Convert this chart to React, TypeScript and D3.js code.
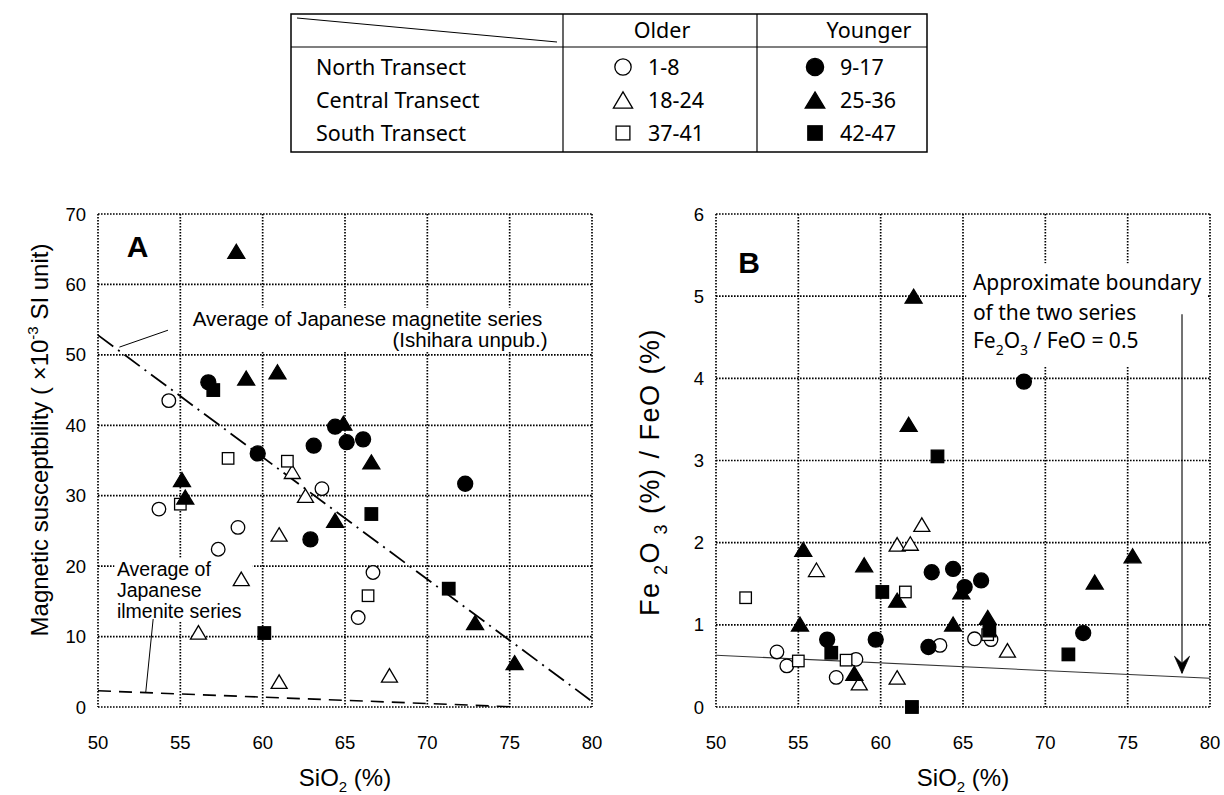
import React from 'react';
import * as d3 from 'd3';

type Pt = [number, number];

// ---------- axes ----------
const xTicks = [50, 55, 60, 65, 70, 75, 80];
const yTicksA = [0, 10, 20, 30, 40, 50, 60, 70];
const yTicksB = [0, 1, 2, 3, 4, 5, 6];

// ---------- Panel A: magnetic susceptibility vs SiO2 ----------
const aNorthOlder: Pt[] = [[54.3, 43.5], [53.7, 28.1], [58.5, 25.5], [57.3, 22.4], [63.6, 31.0], [66.7, 19.1], [65.8, 12.7]];
const aNorthYounger: Pt[] = [[56.7, 46.1], [64.4, 39.8], [63.1, 37.1], [59.7, 36.0], [65.1, 37.6], [66.1, 38.0], [72.3, 31.7], [62.9, 23.8]];
const aCentralOlder: Pt[] = [[61.8, 33.4], [62.6, 30.0], [61.0, 24.5], [58.7, 18.2], [56.1, 10.6], [61.0, 3.6], [67.7, 4.5]];
const aCentralYounger: Pt[] = [[58.4, 64.7], [59.0, 46.7], [60.9, 47.6], [64.9, 40.3], [55.1, 32.3], [55.3, 29.8], [64.4, 26.5], [66.6, 34.8], [72.9, 12.0], [75.3, 6.3]];
const aSouthOlder: Pt[] = [[57.9, 35.3], [61.5, 34.9], [55.0, 28.8], [66.4, 15.8]];
const aSouthYounger: Pt[] = [[57.0, 45.0], [60.1, 10.5], [66.6, 27.4], [71.3, 16.8]];

const magnetiteLine: Pt[] = [[50, 52.8], [80, 0.8]];
const ilmeniteLine: Pt[] = [[50, 2.3], [75.5, 0.0]];
const magnetiteLeader: Pt[] = [[51.3, 51.1], [54.25, 53.5]];
const ilmeniteLeader: Pt[] = [[53.35, 12.5], [52.9, 2.1]];

// ---------- Panel B: Fe2O3/FeO vs SiO2 ----------
const bNorthOlder: Pt[] = [[53.7, 0.67], [54.3, 0.5], [58.5, 0.58], [57.3, 0.36], [65.7, 0.83], [66.7, 0.82], [63.6, 0.75]];
const bNorthYounger: Pt[] = [[56.75, 0.82], [59.7, 0.82], [68.7, 3.96], [63.1, 1.64], [64.4, 1.68], [65.1, 1.46], [66.1, 1.54], [62.9, 0.73], [72.3, 0.9]];
const bCentralOlder: Pt[] = [[56.1, 1.67], [61.0, 1.98], [61.8, 1.99], [62.5, 2.22], [58.7, 0.29], [61.0, 0.36], [67.7, 0.69]];
const bCentralYounger: Pt[] = [[62.0, 5.0], [61.7, 3.44], [55.3, 1.92], [59.0, 1.73], [61.0, 1.3], [55.1, 1.01], [58.4, 0.41], [64.9, 1.4], [64.4, 1.01], [66.5, 1.09], [73.0, 1.52], [75.3, 1.84]];
const bSouthOlder: Pt[] = [[51.8, 1.33], [61.5, 1.4], [55.0, 0.56], [57.9, 0.57], [66.5, 0.88]];
const bSouthYounger: Pt[] = [[63.45, 3.05], [60.1, 1.4], [57.0, 0.66], [61.9, 0.0], [66.6, 0.93], [71.4, 0.64]];

const boundaryLine: Pt[] = [[50, 0.63], [80, 0.35]];
const arrowLine: Pt[] = [[78.3, 4.78], [78.3, 0.41]];

// ---------- legend ----------
const legendRows = ['North Transect', 'Central Transect', 'South Transect'];
const olderRanges = ['1-8', '18-24', '37-41'];
const youngerRanges = ['9-17', '25-36', '42-47'];
const legendShapes = ['circle', 'triangle', 'square'];

const FONT = '"Liberation Sans", Arial, Helvetica, sans-serif';
const FONT2 = '"Noto Sans", "DejaVu Sans", sans-serif';
const DOT = '1.6 1.4';

const xA = d3.scaleLinear().domain([50, 80]).range([98, 592]);
const yA = d3.scaleLinear().domain([0, 70]).range([707, 214]);
const xB = d3.scaleLinear().domain([50, 80]).range([716, 1210]);
const yB = d3.scaleLinear().domain([0, 6]).range([707, 214]);

function Marker({ shape, filled, x, y, k = 1 }: { shape: string; filled: boolean; x: number; y: number; k?: number }) {
  const fill = filled ? '#000' : '#fff';
  const sw = 1.3;
  if (shape === 'circle') {
    const r = (filled ? 7.5 : 6.8) * k;
    return <circle cx={x} cy={y} r={r} fill={fill} stroke="#000" strokeWidth={sw} />;
  }
  if (shape === 'triangle') {
    const w = (filled ? 17 : 16) * k;
    const h = (filled ? 14 : 13.5) * k;
    return <path d={`M${x},${y - h / 2}L${x + w / 2},${y + h / 2}L${x - w / 2},${y + h / 2}Z`} fill={fill} stroke="#000" strokeWidth={sw} strokeLinejoin="miter" />;
  }
  const s = (filled ? 12.5 : 11.5) * k;
  return <rect x={x - s / 2} y={y - s / 2} width={s} height={s} fill={fill} stroke="#000" strokeWidth={sw} />;
}

function Grid({ x, y, yTicks }: { x: d3.ScaleLinear<number, number>; y: d3.ScaleLinear<number, number>; yTicks: number[] }) {
  const [x0, x1] = x.range();
  const [y0, y1] = y.range();
  return (
    <g stroke="#000" strokeWidth={1.7} strokeDasharray={DOT} fill="none">
      {xTicks.map((t) => (
        <line key={'v' + t} x1={x(t)} x2={x(t)} y1={y1} y2={y0} />
      ))}
      {yTicks.map((t) => (
        <line key={'h' + t} x1={x0} x2={x1} y1={y(t)} y2={y(t)} />
      ))}
    </g>
  );
}

function TickLabels({ x, y, yTicks }: { x: d3.ScaleLinear<number, number>; y: d3.ScaleLinear<number, number>; yTicks: number[] }) {
  const x0 = x.range()[0];
  const y0 = y.range()[0];
  return (
    <g fontFamily={FONT} fontSize={18.5} fill="#000">
      {xTicks.map((t) => (
        <text key={'xt' + t} x={x(t)} y={y0 + 42} textAnchor="middle">{t}</text>
      ))}
      {yTicks.map((t) => (
        <text key={'yt' + t} x={x0 - 12} y={y(t) + 6.5} textAnchor="end">{t}</text>
      ))}
    </g>
  );
}

function Series({ data, shape, filled, x, y }: { data: Pt[]; shape: string; filled: boolean; x: d3.ScaleLinear<number, number>; y: d3.ScaleLinear<number, number> }) {
  return (
    <g>
      {data.map((d, i) => (
        <Marker key={i} shape={shape} filled={filled} x={x(d[0])} y={y(d[1])} />
      ))}
    </g>
  );
}

export default function App() {
  const lineA = d3.line<Pt>().x((d) => xA(d[0])).y((d) => yA(d[1]));
  const lineB = d3.line<Pt>().x((d) => xB(d[0])).y((d) => yB(d[1]));

  const tipX = xB(arrowLine[1][0]);
  const tipY = yB(arrowLine[1][1]);

  const rowY = [67, 100, 133];

  return (
    <svg width={1224} height={795} style={{ position: 'absolute', left: 0, top: 0, background: '#fff' }}>
      <rect x={0} y={0} width={1224} height={795} fill="#fff" />

      {/* ---------------- Legend table ---------------- */}
      <g>
        <rect x={291} y={14} width={636} height={138} fill="none" stroke="#000" strokeWidth={1.5} />
        <line x1={291} x2={927} y1={47} y2={47} stroke="#000" strokeWidth={1.2} />
        <line x1={563} x2={563} y1={14} y2={152} stroke="#000" strokeWidth={1.2} />
        <line x1={757} x2={757} y1={14} y2={152} stroke="#000" strokeWidth={1.2} />
        <line x1={297} x2={557} y1={18} y2={42} stroke="#000" strokeWidth={1} />
        <g fontFamily={FONT2} fontSize={21.5} fill="#000">
          <text x={662} y={38} textAnchor="middle">Older</text>
          <text x={869} y={38} textAnchor="middle">Younger</text>
          {legendRows.map((r, i) => (
            <text key={r} x={316} y={rowY[i] + 7.5}>{r}</text>
          ))}
          {olderRanges.map((r, i) => (
            <text key={r} x={648} y={rowY[i] + 7.5}>{r}</text>
          ))}
          {youngerRanges.map((r, i) => (
            <text key={r} x={840} y={rowY[i] + 7.5}>{r}</text>
          ))}
        </g>
        {legendShapes.map((s, i) => (
          <Marker key={'lo' + s} shape={s} filled={false} x={623} y={rowY[i]} k={1.2} />
        ))}
        {legendShapes.map((s, i) => (
          <Marker key={'ly' + s} shape={s} filled={true} x={815} y={rowY[i]} k={1.15} />
        ))}
      </g>

      {/* ---------------- Panel A ---------------- */}
      <Grid x={xA} y={yA} yTicks={yTicksA} />
      {/* white boxes behind annotations */}
      <rect x={xA(55.6)} y={yA(56.7)} width={xA(77.4) - xA(55.6)} height={yA(50.4) - yA(56.7)} fill="#fff" />
      <rect x={xA(51.0)} y={yA(21.2)} width={xA(59.4) - xA(51.0)} height={yA(12.1) - yA(21.2)} fill="#fff" />

      <path d={lineA(magnetiteLine) || ''} fill="none" stroke="#000" strokeWidth={1.8} strokeDasharray="19 6 2 6" />
      <path d={lineA(ilmeniteLine) || ''} fill="none" stroke="#000" strokeWidth={1.6} strokeDasharray="13 8" />
      <path d={lineA(magnetiteLeader) || ''} fill="none" stroke="#000" strokeWidth={1} />
      <path d={lineA(ilmeniteLeader) || ''} fill="none" stroke="#000" strokeWidth={1} />

      <g fontFamily={FONT} fontSize={20.5} fill="#000">
        <text x={xA(55.75)} y={yA(54.1)}>Average of Japanese magnetite series</text>
        <text x={xA(77.3)} y={yA(51.1)} textAnchor="end">(Ishihara unpub.)</text>
      </g>
      <g fontFamily={FONT} fontSize={19.5} fill="#000">
        <text x={xA(51.15)} y={yA(18.6)}>Average of</text>
        <text x={xA(51.15)} y={yA(15.6)}>Japanese</text>
        <text x={xA(51.15)} y={yA(12.6)}>ilmenite series</text>
      </g>
      <text x={xA(51.75)} y={yA(63.9)} fontFamily={FONT} fontSize={30} fontWeight="bold" fill="#000">A</text>

      <Series data={aNorthOlder} shape="circle" filled={false} x={xA} y={yA} />
      <Series data={aCentralOlder} shape="triangle" filled={false} x={xA} y={yA} />
      <Series data={aSouthOlder} shape="square" filled={false} x={xA} y={yA} />
      <Series data={aNorthYounger} shape="circle" filled={true} x={xA} y={yA} />
      <Series data={aCentralYounger} shape="triangle" filled={true} x={xA} y={yA} />
      <Series data={aSouthYounger} shape="square" filled={true} x={xA} y={yA} />

      <TickLabels x={xA} y={yA} yTicks={yTicksA} />
      <text x={345} y={786} textAnchor="middle" fontFamily={FONT} fontSize={24} fill="#000">
        SiO<tspan fontSize={15} dy={6}>2</tspan><tspan dy={-6}> (%)</tspan>
      </text>
      <text transform="translate(48,440) rotate(-90)" textAnchor="middle" fontFamily={FONT} fontSize={24} fill="#000">
        Magnetic susceptbility ( ×10<tspan fontSize={15} dy={-10}>-3</tspan><tspan dy={10}> SI unit)</tspan>
      </text>

      {/* ---------------- Panel B ---------------- */}
      <Grid x={xB} y={yB} yTicks={yTicksB} />
      <rect x={xB(65.2)} y={yB(5.4)} width={xB(79.85) - xB(65.2)} height={yB(4.14) - yB(5.4)} fill="#fff" />

      <path d={lineB(boundaryLine) || ''} fill="none" stroke="#333" strokeWidth={1.1} />
      <path d={lineB(arrowLine) || ''} fill="none" stroke="#000" strokeWidth={1.1} />
      <path
        d={`M${tipX},${tipY}L${tipX - 7.5},${tipY - 17}L${tipX},${tipY - 10}L${tipX + 7.5},${tipY - 17}Z`}
        fill="#000"
        stroke="#000"
        strokeWidth={0.8}
      />

      <g fontFamily={FONT2} fontSize={21} fill="#000">
        <text x={xB(65.6)} y={yB(5.07)}>Approximate boundary</text>
        <text x={xB(65.6)} y={yB(4.71)}>of the two series</text>
        <text x={xB(65.6)} y={yB(4.37)}>
          Fe<tspan fontSize={14} dy={7}>2</tspan><tspan dy={-7}>O</tspan><tspan fontSize={14} dy={7}>3</tspan><tspan dy={-7}> / FeO = 0.5</tspan>
        </text>
      </g>
      <text x={xB(51.35)} y={yB(5.28)} fontFamily={FONT} fontSize={30} fontWeight="bold" fill="#000">B</text>

      <Series data={bNorthOlder} shape="circle" filled={false} x={xB} y={yB} />
      <Series data={bCentralOlder} shape="triangle" filled={false} x={xB} y={yB} />
      <Series data={bSouthOlder} shape="square" filled={false} x={xB} y={yB} />
      <Series data={bNorthYounger} shape="circle" filled={true} x={xB} y={yB} />
      <Series data={bCentralYounger} shape="triangle" filled={true} x={xB} y={yB} />
      <Series data={bSouthYounger} shape="square" filled={true} x={xB} y={yB} />

      <TickLabels x={xB} y={yB} yTicks={yTicksB} />
      <text x={963} y={786} textAnchor="middle" fontFamily={FONT} fontSize={24} fill="#000">
        SiO<tspan fontSize={15} dy={6}>2</tspan><tspan dy={-6}> (%)</tspan>
      </text>
      <text transform="translate(659,472) rotate(-90)" textAnchor="middle" fontFamily={FONT} fontSize={27} letterSpacing={1.5} fill="#000">
        Fe<tspan fontSize={18} dy={8}> 2</tspan><tspan dy={-8}>O</tspan><tspan fontSize={18} dy={8}> 3</tspan><tspan dy={-8}>  (%) / FeO (%)</tspan>
      </text>
    </svg>
  );
}
